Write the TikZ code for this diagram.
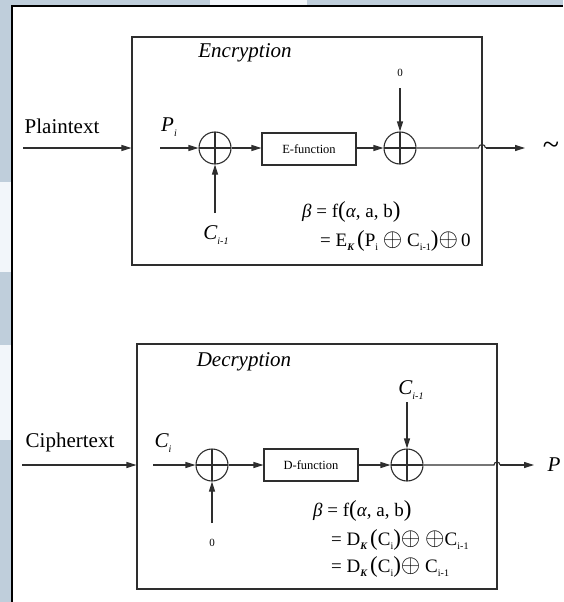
\documentclass[tikz,border=0pt]{standalone}
\usepackage{fontspec}
\setmainfont{Liberation Serif}
\usetikzlibrary{arrows.meta,calc}
\definecolor{panelblue}{HTML}{BFCEDB}
\definecolor{panelpale}{HTML}{F2F6FA}
\definecolor{ink}{HTML}{2E2E2E}
% small lowered subscript in the text font
\newcommand\lowsub[1]{\raisebox{-0.45ex}{\fontsize{10}{10}\selectfont #1}}
\newcommand\bigpar[1]{{\fontsize{23}{23}\selectfont #1}}
\newcommand\xorsym{\scalebox{1.45}{$\oplus$}}

\tikzset{
  label/.style={inner sep=0pt, font=\fontsize{21}{24}\selectfont},
  title/.style={inner sep=0pt, font=\fontsize{21}{24}\selectfont\itshape},
  small/.style={inner sep=0pt, font=\fontsize{11}{12}\selectfont},
  formula/.style={inner sep=0pt, anchor=west, font=\fontsize{19}{22}\selectfont},
  frame/.style={draw=ink, line width=1.1pt, fill=none},
  funcbox/.style={draw=ink, line width=1.1pt, minimum width=94pt, minimum height=32pt,
    inner sep=0pt, font=\fontsize{12.5}{14}\selectfont},
  xor/.style={circle, draw=ink, line width=1.1pt, minimum size=32pt, inner sep=0pt,
    path picture={
      \draw[ink, line width=2.2pt] (path picture bounding box.north) -- (path picture bounding box.south);
      \draw[ink, line width=2.2pt] (path picture bounding box.west) -- (path picture bounding box.east);}},
  flow/.style={draw=ink, line width=1.1pt, -{Triangle[length=10pt,width=6pt]}},
  wire/.style={draw=ink, line width=1.1pt},
}

\begin{document}
\begin{tikzpicture}[x=1pt,y=-1pt]
\useasboundingbox (0,0) rectangle (563,602);

% page background and frame
\fill[panelblue] (0,0) rectangle (563,602);
\fill[white] (12,6) rectangle (563,602);
\fill[panelpale] (210,0) rectangle (307,5);
\fill[panelpale] (0,182) rectangle (11,272);
\fill[panelpale] (0,345) rectangle (11,440);
\draw[black, line width=2.2pt] (12,602) -- (12,6) -- (563,6);

% ---------------- Encryption ----------------
\node[frame, minimum width=350pt, minimum height=228pt, inner sep=0pt] (ebox) at (307,151) {};
\node[title] (etitle) at (245,53) {Encryption};

\node[label] (plain) at (62,126) {Plaintext};
\coordinate (plainin) at (23,148);
\draw[flow] (plainin) -- (plainin -| ebox.west);

\node[label] (pi) at (169,127) {\itshape P\lowsub{i}};
\coordinate (pistart) at (160,148);
\node[xor] (ex1) at (215,148) {};
\node[funcbox] (efun) at (309,149) {E-function};
\node[xor] (ex2) at (400,148) {};

\draw[flow] (pistart) -- (ex1.west);
\draw[flow] (ex1.east) -- (efun.west |- ex1.east);
\draw[flow] (efun.east |- ex2.west) -- (ex2.west);

\node[small] (ezero) at (400,73) {0};
\coordinate (ezerostart) at (400,88);
\draw[flow] (ezerostart) -- (ex2.north);

\node[label] (eci) at (216,235) {\itshape C\lowsub{i-1}};
\coordinate (ecistart) at (215,213);
\draw[flow] (ecistart) -- (ex1.south);

\coordinate (ehopa) at (478.5,148);
\coordinate (eout) at (525,148);
\draw[wire] (ex2.east) -- (ehopa) arc[start angle=180, end angle=0, radius=3.5pt];
\draw[flow] (485.5,148) -- (eout);
\node[inner sep=0pt, font=\fontsize{30}{30}\selectfont] (tilde) at (551,148) {\textasciitilde};

\node[formula] (ef1) at (302,212) {{\itshape β} = f\bigpar{(}{\itshape α}, a, b\bigpar{)}};
\node[formula] (ef2) at (320,241) {= E\lowsub{\itshape\bfseries K}\,\bigpar{(}P\lowsub{i} \xorsym\ C\lowsub{i-1}\bigpar{)}\xorsym\,0};

% ---------------- Decryption ----------------
\node[frame, minimum width=360pt, minimum height=245pt, inner sep=0pt] (dbox) at (317,466.5) {};
\node[title] (dtitle) at (244,362) {Decryption};

\node[label] (cipher) at (70,442) {Ciphertext};
\coordinate (cipherin) at (22,465);
\draw[flow] (cipherin) -- (cipherin -| dbox.west);

\node[label] (ci) at (163,443) {\itshape C\lowsub{i}};
\coordinate (cistart) at (153,465);
\node[xor] (dx1) at (212,465) {};
\node[funcbox] (dfun) at (311,465) {D-function};
\node[xor] (dx2) at (407,465) {};

\draw[flow] (cistart) -- (dx1.west);
\draw[flow] (dx1.east) -- (dfun.west);
\draw[flow] (dfun.east) -- (dx2.west);

\node[label] (dci) at (411,390) {\itshape C\lowsub{i-1}};
\coordinate (dcistart) at (407,402);
\draw[flow] (dcistart) -- (dx2.north);

\node[small] (dzero) at (212,543) {0};
\coordinate (dzerostart) at (212,523);
\draw[flow] (dzerostart) -- (dx1.south);

\coordinate (dhopa) at (494,465);
\coordinate (dout) at (534,465);
\draw[wire] (dx2.east) -- (dhopa) arc[start angle=180, end angle=0, radius=3pt];
\draw[flow] (500,465) -- (dout);
\node[label] (pout) at (554,465) {\itshape P};

\node[formula] (df1) at (313,511) {{\itshape β} = f\bigpar{(}{\itshape α}, a, b\bigpar{)}};
\node[formula] (df2) at (331,540) {= D\lowsub{\itshape\bfseries K}\,\bigpar{(}C\lowsub{i}\bigpar{)}\xorsym\ \xorsym C\lowsub{i-1}};
\node[formula] (df3) at (331,567) {= D\lowsub{\itshape\bfseries K}\,\bigpar{(}C\lowsub{i}\bigpar{)}\xorsym\ C\lowsub{i-1}};
\end{tikzpicture}
\end{document}
